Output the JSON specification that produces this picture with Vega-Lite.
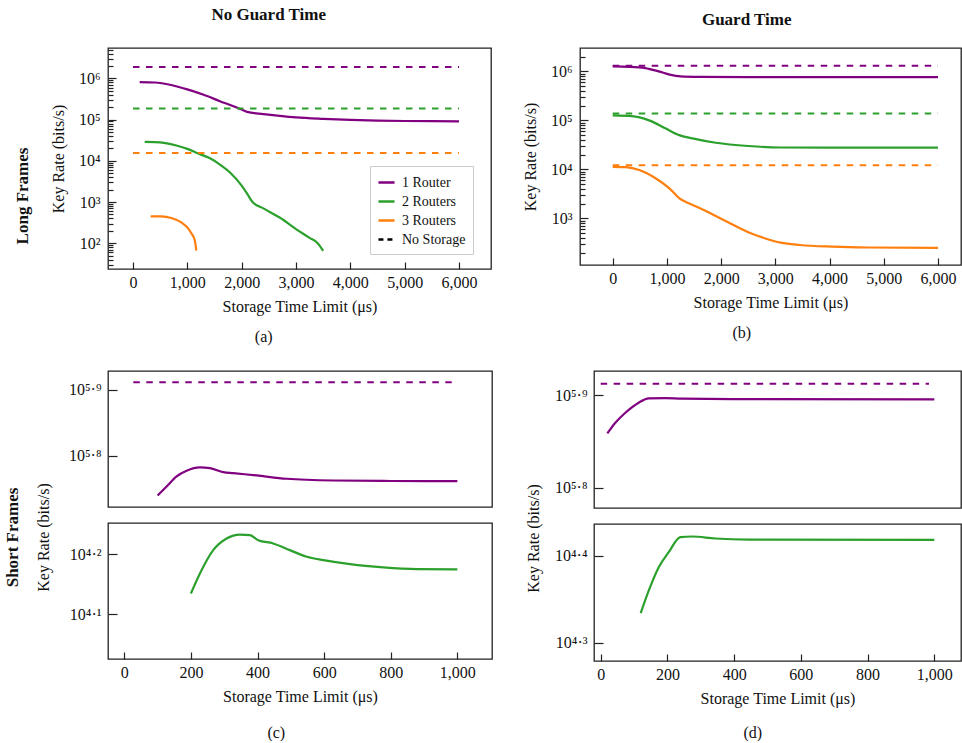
{
 "$schema": "https://vega.github.io/schema/vega-lite/v6.json",
 "padding": {"left": 3, "top": 6, "right": 0, "bottom": 0},
 "config": {
  "font": "Liberation Serif",
  "view": {"stroke": "#222", "strokeWidth": 1.3},
  "axis": {"labelFont": "Liberation Serif", "titleFont": "Liberation Serif", "labelFontSize": 16, "titleFontSize": 16, "titleFontWeight": "normal", "labelColor": "#111", "titleColor": "#111", "tickColor": "#222", "tickWidth": 1.2, "grid": false, "domain": false},
  "title": {"font": "Liberation Serif", "fontSize": 17, "fontWeight": "bold", "color": "#111", "anchor": "middle"},
  "legend": {"labelFont": "Liberation Serif"}
 },
 "datasets": {
  "a": [
   {"x": 123, "y": 815000, "r": "1 Router", "k": "s"},
   {"x": 400, "y": 795000, "r": "1 Router", "k": "s"},
   {"x": 700, "y": 690000, "r": "1 Router", "k": "s"},
   {"x": 1000, "y": 540000, "r": "1 Router", "k": "s"},
   {"x": 1300, "y": 400000, "r": "1 Router", "k": "s"},
   {"x": 1600, "y": 280000, "r": "1 Router", "k": "s"},
   {"x": 1850, "y": 210000, "r": "1 Router", "k": "s"},
   {"x": 2025, "y": 169000, "r": "1 Router", "k": "s"},
   {"x": 2100, "y": 154000, "r": "1 Router", "k": "s"},
   {"x": 2400, "y": 136000, "r": "1 Router", "k": "s"},
   {"x": 2700, "y": 123000, "r": "1 Router", "k": "s"},
   {"x": 3000, "y": 113000, "r": "1 Router", "k": "s"},
   {"x": 3500, "y": 104000, "r": "1 Router", "k": "s"},
   {"x": 4000, "y": 98000, "r": "1 Router", "k": "s"},
   {"x": 4500, "y": 94500, "r": "1 Router", "k": "s"},
   {"x": 5000, "y": 92500, "r": "1 Router", "k": "s"},
   {"x": 5500, "y": 91500, "r": "1 Router", "k": "s"},
   {"x": 6000, "y": 91000, "r": "1 Router", "k": "s"},
   {"x": 215, "y": 28700, "r": "2 Routers", "k": "s"},
   {"x": 400, "y": 28400, "r": "2 Routers", "k": "s"},
   {"x": 600, "y": 26800, "r": "2 Routers", "k": "s"},
   {"x": 800, "y": 23500, "r": "2 Routers", "k": "s"},
   {"x": 1000, "y": 19500, "r": "2 Routers", "k": "s"},
   {"x": 1200, "y": 15000, "r": "2 Routers", "k": "s"},
   {"x": 1400, "y": 11800, "r": "2 Routers", "k": "s"},
   {"x": 1600, "y": 8100, "r": "2 Routers", "k": "s"},
   {"x": 1800, "y": 5000, "r": "2 Routers", "k": "s"},
   {"x": 2000, "y": 2500, "r": "2 Routers", "k": "s"},
   {"x": 2100, "y": 1600, "r": "2 Routers", "k": "s"},
   {"x": 2200, "y": 1000, "r": "2 Routers", "k": "s"},
   {"x": 2400, "y": 700, "r": "2 Routers", "k": "s"},
   {"x": 2700, "y": 420, "r": "2 Routers", "k": "s"},
   {"x": 3000, "y": 220, "r": "2 Routers", "k": "s"},
   {"x": 3250, "y": 135, "r": "2 Routers", "k": "s"},
   {"x": 3400, "y": 100, "r": "2 Routers", "k": "s"},
   {"x": 3500, "y": 65, "r": "2 Routers", "k": "s"},
   {"x": 325, "y": 450, "r": "3 Routers", "k": "s"},
   {"x": 520, "y": 450, "r": "3 Routers", "k": "s"},
   {"x": 706, "y": 408, "r": "3 Routers", "k": "s"},
   {"x": 890, "y": 319, "r": "3 Routers", "k": "s"},
   {"x": 1012, "y": 232, "r": "3 Routers", "k": "s"},
   {"x": 1074, "y": 174, "r": "3 Routers", "k": "s"},
   {"x": 1135, "y": 121, "r": "3 Routers", "k": "s"},
   {"x": 1166, "y": 66, "r": "3 Routers", "k": "s"},
   {"x": 0, "y": 1900000, "r": "1 Router", "k": "d"},
   {"x": 6000, "y": 1900000, "r": "1 Router", "k": "d"},
   {"x": 0, "y": 185000, "r": "2 Routers", "k": "d"},
   {"x": 6000, "y": 185000, "r": "2 Routers", "k": "d"},
   {"x": 0, "y": 15500, "r": "3 Routers", "k": "d"},
   {"x": 6000, "y": 15500, "r": "3 Routers", "k": "d"}
  ],
  "b": [
   {"x": 0, "y": 1260000, "r": "1 Router", "k": "s"},
   {"x": 300, "y": 1240000, "r": "1 Router", "k": "s"},
   {"x": 600, "y": 1170000, "r": "1 Router", "k": "s"},
   {"x": 850, "y": 1000000, "r": "1 Router", "k": "s"},
   {"x": 1050, "y": 860000, "r": "1 Router", "k": "s"},
   {"x": 1250, "y": 790000, "r": "1 Router", "k": "s"},
   {"x": 1600, "y": 770000, "r": "1 Router", "k": "s"},
   {"x": 2500, "y": 760000, "r": "1 Router", "k": "s"},
   {"x": 6000, "y": 760000, "r": "1 Router", "k": "s"},
   {"x": 0, "y": 126000, "r": "2 Routers", "k": "s"},
   {"x": 350, "y": 122000, "r": "2 Routers", "k": "s"},
   {"x": 670, "y": 100000, "r": "2 Routers", "k": "s"},
   {"x": 980, "y": 68000, "r": "2 Routers", "k": "s"},
   {"x": 1225, "y": 50000, "r": "2 Routers", "k": "s"},
   {"x": 1470, "y": 43000, "r": "2 Routers", "k": "s"},
   {"x": 1900, "y": 35000, "r": "2 Routers", "k": "s"},
   {"x": 2500, "y": 30000, "r": "2 Routers", "k": "s"},
   {"x": 3100, "y": 28000, "r": "2 Routers", "k": "s"},
   {"x": 4000, "y": 27800, "r": "2 Routers", "k": "s"},
   {"x": 6000, "y": 27800, "r": "2 Routers", "k": "s"},
   {"x": 0, "y": 11300, "r": "3 Routers", "k": "s"},
   {"x": 240, "y": 11100, "r": "3 Routers", "k": "s"},
   {"x": 490, "y": 9700, "r": "3 Routers", "k": "s"},
   {"x": 790, "y": 6600, "r": "3 Routers", "k": "s"},
   {"x": 1040, "y": 4150, "r": "3 Routers", "k": "s"},
   {"x": 1225, "y": 2600, "r": "3 Routers", "k": "s"},
   {"x": 1380, "y": 2080, "r": "3 Routers", "k": "s"},
   {"x": 1600, "y": 1640, "r": "3 Routers", "k": "s"},
   {"x": 1900, "y": 1120, "r": "3 Routers", "k": "s"},
   {"x": 2200, "y": 760, "r": "3 Routers", "k": "s"},
   {"x": 2500, "y": 520, "r": "3 Routers", "k": "s"},
   {"x": 2800, "y": 395, "r": "3 Routers", "k": "s"},
   {"x": 3100, "y": 320, "r": "3 Routers", "k": "s"},
   {"x": 3450, "y": 287, "r": "3 Routers", "k": "s"},
   {"x": 4050, "y": 265, "r": "3 Routers", "k": "s"},
   {"x": 4700, "y": 255, "r": "3 Routers", "k": "s"},
   {"x": 6000, "y": 250, "r": "3 Routers", "k": "s"},
   {"x": 0, "y": 1300000, "r": "1 Router", "k": "d"},
   {"x": 6000, "y": 1300000, "r": "1 Router", "k": "d"},
   {"x": 0, "y": 138000, "r": "2 Routers", "k": "d"},
   {"x": 6000, "y": 138000, "r": "2 Routers", "k": "d"},
   {"x": 0, "y": 12200, "r": "3 Routers", "k": "d"},
   {"x": 6000, "y": 12200, "r": "3 Routers", "k": "d"}
  ],
  "c1": [
   {"x": 100, "y": 549500, "r": "1 Router", "k": "s"},
   {"x": 127, "y": 567000, "r": "1 Router", "k": "s"},
   {"x": 157, "y": 587200, "r": "1 Router", "k": "s"},
   {"x": 187, "y": 598900, "r": "1 Router", "k": "s"},
   {"x": 227, "y": 605900, "r": "1 Router", "k": "s"},
   {"x": 257, "y": 604500, "r": "1 Router", "k": "s"},
   {"x": 297, "y": 596200, "r": "1 Router", "k": "s"},
   {"x": 327, "y": 594000, "r": "1 Router", "k": "s"},
   {"x": 397, "y": 589300, "r": "1 Router", "k": "s"},
   {"x": 487, "y": 582400, "r": "1 Router", "k": "s"},
   {"x": 628, "y": 578900, "r": "1 Router", "k": "s"},
   {"x": 800, "y": 577900, "r": "1 Router", "k": "s"},
   {"x": 1000, "y": 577600, "r": "1 Router", "k": "s"},
   {"x": 27, "y": 815800, "r": "1 Router", "k": "d"},
   {"x": 983, "y": 815800, "r": "1 Router", "k": "d"}
  ],
  "c2": [
   {"x": 200, "y": 13634, "r": "2 Routers", "k": "s"},
   {"x": 227, "y": 14730, "r": "2 Routers", "k": "s"},
   {"x": 267, "y": 16120, "r": "2 Routers", "k": "s"},
   {"x": 307, "y": 16860, "r": "2 Routers", "k": "s"},
   {"x": 347, "y": 17120, "r": "2 Routers", "k": "s"},
   {"x": 377, "y": 17080, "r": "2 Routers", "k": "s"},
   {"x": 402, "y": 16750, "r": "2 Routers", "k": "s"},
   {"x": 447, "y": 16540, "r": "2 Routers", "k": "s"},
   {"x": 497, "y": 16120, "r": "2 Routers", "k": "s"},
   {"x": 548, "y": 15710, "r": "2 Routers", "k": "s"},
   {"x": 598, "y": 15510, "r": "2 Routers", "k": "s"},
   {"x": 678, "y": 15270, "r": "2 Routers", "k": "s"},
   {"x": 778, "y": 15080, "r": "2 Routers", "k": "s"},
   {"x": 878, "y": 14980, "r": "2 Routers", "k": "s"},
   {"x": 1000, "y": 14960, "r": "2 Routers", "k": "s"}
  ],
  "d1": [
   {"x": 20, "y": 722400, "r": "1 Router", "k": "s"},
   {"x": 44, "y": 741900, "r": "1 Router", "k": "s"},
   {"x": 74, "y": 760600, "r": "1 Router", "k": "s"},
   {"x": 114, "y": 779900, "r": "1 Router", "k": "s"},
   {"x": 144, "y": 788300, "r": "1 Router", "k": "s"},
   {"x": 194, "y": 788900, "r": "1 Router", "k": "s"},
   {"x": 244, "y": 787600, "r": "1 Router", "k": "s"},
   {"x": 394, "y": 786900, "r": "1 Router", "k": "s"},
   {"x": 1000, "y": 786300, "r": "1 Router", "k": "s"},
   {"x": 0, "y": 817700, "r": "1 Router", "k": "d"},
   {"x": 984, "y": 817700, "r": "1 Router", "k": "d"}
  ],
  "d2": [
   {"x": 120, "y": 21590, "r": "2 Routers", "k": "s"},
   {"x": 144, "y": 22910, "r": "2 Routers", "k": "s"},
   {"x": 174, "y": 24380, "r": "2 Routers", "k": "s"},
   {"x": 204, "y": 25370, "r": "2 Routers", "k": "s"},
   {"x": 239, "y": 26400, "r": "2 Routers", "k": "s"},
   {"x": 274, "y": 26440, "r": "2 Routers", "k": "s"},
   {"x": 344, "y": 26300, "r": "2 Routers", "k": "s"},
   {"x": 444, "y": 26230, "r": "2 Routers", "k": "s"},
   {"x": 1000, "y": 26210, "r": "2 Routers", "k": "s"}
  ]
 },
 "spacing": 25,
 "vconcat": [
  {
   "spacing": 29,
   "hconcat": [
    {
     "title": {"text": "No Guard Time", "anchor": "middle", "offset": 23, "dx": 16},
     "vconcat": [{
      "title": {"text": "Long Frames", "orient": "left", "anchor": "middle", "offset": 18},
      "vconcat": [{
       "title": {"text": "(a)", "orient": "bottom", "anchor": "middle", "fontWeight": "normal", "fontSize": 16, "offset": 14, "dx": -7},
       "vconcat": [{
        "width": 383, "height": 221,
        "data": {"name": "a"},
        "encoding": {
         "x": {"field": "x", "type": "quantitative", "scale": {"domain": [-460, 6589], "nice": false, "zero": false},
               "axis": {"title": "Storage Time Limit (μs)", "values": [0, 1000, 2000, 3000, 4000, 5000, 6000], "format": ",d", "tickSize": -7, "labelPadding": 12, "titlePadding": 8}},
         "y": {"field": "y", "type": "quantitative", "scale": {"type": "log", "domain": [23.7, 5460000], "nice": false},
               "axis": {"title": "Key Rate (bits/s)", "titlePadding": 12, "labelPadding": 16,
                        "values": [30, 40, 50, 60, 70, 80, 90, 100, 200, 300, 400, 500, 600, 700, 800, 900, 1000, 2000, 3000, 4000, 5000, 6000, 7000, 8000, 9000, 10000, 20000, 30000, 40000, 50000, 60000, 70000, 80000, 90000, 100000, 200000, 300000, 400000, 500000, 600000, 700000, 800000, 900000, 1000000, 2000000, 3000000, 4000000, 5000000],
                        "labelExpr": "datum.value == 100 ? '10²' : datum.value == 1000 ? '10³' : datum.value == 10000 ? '10⁴' : datum.value == 100000 ? '10⁵' : datum.value == 1000000 ? '10⁶' : ''",
                        "tickSize": {"condition": {"test": "indexof([100, 1000, 10000, 100000, 1000000], datum.value) >= 0", "value": -8}, "value": -5}}},
         "color": {"field": "r", "type": "nominal",
                   "scale": {"domain": ["1 Router", "2 Routers", "3 Routers", "No Storage"], "range": ["#800080", "#2ca02c", "#ff7f0e", "#000000"]},
                   "legend": {"title": null, "orient": "none", "legendX": 262, "legendY": 118, "symbolType": "stroke", "symbolStrokeWidth": 2.5, "symbolSize": 260, "labelFontSize": 14, "labelFont": "Liberation Serif", "labelColor": "#111", "strokeColor": "#ccc", "fillColor": "white", "padding": 7, "rowPadding": 2, "labelOffset": 6,
                              "encode": {"symbols": {"update": {"strokeDash": {"signal": "datum.value === 'No Storage' ? [5, 4] : [1, 0]"}}}}}}
        },
        "layer": [
         {"transform": [{"filter": "datum.k == 's'"}], "mark": {"type": "line", "strokeWidth": 2.2, "interpolate": "monotone"}},
         {"transform": [{"filter": "datum.k == 'd'"}], "mark": {"type": "line", "strokeWidth": 2, "strokeDash": [6.5, 6.5]}}
        ]
       }]
      }]
     }]
    },
    {
     "title": {"text": "Guard Time", "anchor": "middle", "offset": 18, "dx": 5},
     "vconcat": [{
      "title": {"text": "(b)", "orient": "bottom", "anchor": "middle", "fontWeight": "normal", "fontSize": 16, "offset": 14},
      "vconcat": [{
       "width": 381, "height": 217,
       "data": {"name": "b"},
       "encoding": {
        "x": {"field": "x", "type": "quantitative", "scale": {"domain": [-604, 6425], "nice": false, "zero": false},
              "axis": {"title": "Storage Time Limit (μs)", "values": [0, 1000, 2000, 3000, 4000, 5000, 6000], "format": ",d", "tickSize": -7, "labelPadding": 12, "titlePadding": 8}},
        "y": {"field": "y", "type": "quantitative", "scale": {"type": "log", "domain": [112, 3000000], "nice": false},
              "axis": {"title": "Key Rate (bits/s)", "titlePadding": 12, "labelPadding": 16,
                       "values": [200, 300, 400, 500, 600, 700, 800, 900, 1000, 2000, 3000, 4000, 5000, 6000, 7000, 8000, 9000, 10000, 20000, 30000, 40000, 50000, 60000, 70000, 80000, 90000, 100000, 200000, 300000, 400000, 500000, 600000, 700000, 800000, 900000, 1000000, 2000000],
                       "labelExpr": "datum.value == 1000 ? '10³' : datum.value == 10000 ? '10⁴' : datum.value == 100000 ? '10⁵' : datum.value == 1000000 ? '10⁶' : ''",
                       "tickSize": {"condition": {"test": "indexof([1000, 10000, 100000, 1000000], datum.value) >= 0", "value": -8}, "value": -5}}},
        "color": {"field": "r", "type": "nominal",
                  "scale": {"domain": ["1 Router", "2 Routers", "3 Routers", "No Storage"], "range": ["#800080", "#2ca02c", "#ff7f0e", "#000000"]}}
       },
       "layer": [
        {"transform": [{"filter": "datum.k == 's'"}], "mark": {"type": "line", "strokeWidth": 2.2, "interpolate": "monotone"}},
        {"transform": [{"filter": "datum.k == 'd'"}], "mark": {"type": "line", "strokeWidth": 2, "strokeDash": [6.5, 6.5]}}
       ]
      }]
     }]
    }
   ]
  },
  {
   "spacing": 32,
   "hconcat": [
    {
     "title": {"text": "(c)", "orient": "bottom", "anchor": "middle", "fontWeight": "normal", "fontSize": 16, "offset": 20, "dx": 28},
     "vconcat": [{
      "title": {"text": "Short Frames", "orient": "left", "anchor": "middle", "offset": 14},
      "vconcat": [{
       "title": {"text": "Key Rate (bits/s)", "orient": "left", "anchor": "middle", "fontWeight": "normal", "fontSize": 16, "offset": 16},
       "spacing": 14,
       "vconcat": [
        {
         "width": 384, "height": 136,
         "data": {"name": "c1"},
         "encoding": {
          "x": {"field": "x", "type": "quantitative", "scale": {"domain": [-49, 1104], "nice": false, "zero": false}, "axis": null},
          "y": {"field": "y", "type": "quantitative", "scale": {"type": "log", "domain": [527700, 848700], "nice": false},
                "axis": {"title": null, "labelPadding": 16, "values": [630957.34, 794328.23], "labelExpr": "datum.value > 700000 ? '10⁵·⁹' : '10⁵·⁸'", "tickSize": -9}},
          "color": {"field": "r", "type": "nominal",
                    "scale": {"domain": ["1 Router", "2 Routers", "3 Routers", "No Storage"], "range": ["#800080", "#2ca02c", "#ff7f0e", "#000000"]}}
         },
         "layer": [
          {"transform": [{"filter": "datum.k == 's'"}], "mark": {"type": "line", "strokeWidth": 2.2, "interpolate": "monotone"}},
          {"transform": [{"filter": "datum.k == 'd'"}], "mark": {"type": "line", "strokeWidth": 2, "strokeDash": [6.5, 6.5]}}
         ]
        },
        {
         "width": 384, "height": 136,
         "data": {"name": "c2"},
         "encoding": {
          "x": {"field": "x", "type": "quantitative", "scale": {"domain": [-49, 1104], "nice": false, "zero": false},
                "axis": {"title": "Storage Time Limit (μs)", "values": [0, 200, 400, 600, 800, 1000], "format": ",d", "tickSize": -7, "labelPadding": 12, "titlePadding": 8}},
          "y": {"field": "y", "type": "quantitative", "scale": {"type": "log", "domain": [10583, 17900], "nice": false},
                "axis": {"title": null, "labelPadding": 16, "values": [12589.25, 15848.93], "labelExpr": "datum.value > 14000 ? '10⁴·²' : '10⁴·¹'", "tickSize": -9}},
          "color": {"field": "r", "type": "nominal",
                    "scale": {"domain": ["1 Router", "2 Routers", "3 Routers", "No Storage"], "range": ["#800080", "#2ca02c", "#ff7f0e", "#000000"]}}
         },
         "mark": {"type": "line", "strokeWidth": 2.2, "interpolate": "monotone"}
        }
       ]
      }]
     }]
    },
    {
     "title": {"text": "(d)", "orient": "bottom", "anchor": "middle", "fontWeight": "normal", "fontSize": 16, "offset": 18, "dx": 9},
     "vconcat": [{
      "title": {"text": "Key Rate (bits/s)", "orient": "left", "anchor": "middle", "fontWeight": "normal", "fontSize": 16, "offset": 12},
      "spacing": 14,
      "vconcat": [
       {
        "width": 367, "height": 137,
        "data": {"name": "d1"},
        "encoding": {
         "x": {"field": "x", "type": "quantitative", "scale": {"domain": [-20, 1080], "nice": false, "zero": false}, "axis": null},
         "y": {"field": "y", "type": "quantitative", "scale": {"type": "log", "domain": [600220, 843800], "nice": false},
               "axis": {"title": null, "labelPadding": 16, "values": [630957.34, 794328.23], "labelExpr": "datum.value > 700000 ? '10⁵·⁹' : '10⁵·⁸'", "tickSize": -9}},
         "color": {"field": "r", "type": "nominal",
                   "scale": {"domain": ["1 Router", "2 Routers", "3 Routers", "No Storage"], "range": ["#800080", "#2ca02c", "#ff7f0e", "#000000"]}}
        },
        "layer": [
         {"transform": [{"filter": "datum.k == 's'"}], "mark": {"type": "line", "strokeWidth": 2.2, "interpolate": "monotone"}},
         {"transform": [{"filter": "datum.k == 'd'"}], "mark": {"type": "line", "strokeWidth": 2, "strokeDash": [6.5, 6.5]}}
        ]
       },
       {
        "width": 367, "height": 137,
        "data": {"name": "d2"},
        "encoding": {
         "x": {"field": "x", "type": "quantitative", "scale": {"domain": [-20, 1080], "nice": false, "zero": false},
               "axis": {"title": "Storage Time Limit (μs)", "values": [0, 200, 400, 600, 800, 1000], "format": ",d", "tickSize": -7, "labelPadding": 12, "titlePadding": 8}},
         "y": {"field": "y", "type": "quantitative", "scale": {"type": "log", "domain": [19020, 27330], "nice": false},
               "axis": {"title": null, "labelPadding": 16, "values": [19952.62, 25118.86], "labelExpr": "datum.value > 22000 ? '10⁴·⁴' : '10⁴·³'", "tickSize": -9}},
         "color": {"field": "r", "type": "nominal",
                   "scale": {"domain": ["1 Router", "2 Routers", "3 Routers", "No Storage"], "range": ["#800080", "#2ca02c", "#ff7f0e", "#000000"]}}
        },
        "mark": {"type": "line", "strokeWidth": 2.2, "interpolate": "monotone"}
       }
      ]
     }]
    }
   ]
  }
 ]
}
